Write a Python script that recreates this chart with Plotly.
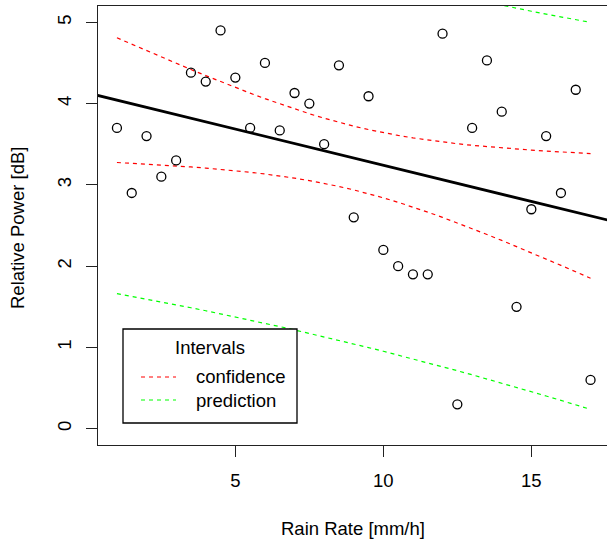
import numpy as np
import plotly.graph_objects as go

# ---- data ----
rain_rate = [1, 1.5, 2, 2.5, 3, 3.5, 4, 4.5, 5, 5.5, 6, 6.5, 7, 7.5, 8, 8.5, 9,
             9.5, 10, 10.5, 11, 11.5, 12, 12.5, 13, 13.5, 14, 14.5, 15, 15.5,
             16, 16.5, 17]
rel_power = [3.7, 2.9, 3.6, 3.1, 3.3, 4.38, 4.27, 4.9, 4.32, 3.7, 4.5, 3.67,
             4.13, 4.0, 3.5, 4.47, 2.6, 4.09, 2.2, 2.0, 1.9, 1.9, 4.86, 0.3,
             3.7, 4.53, 3.9, 1.5, 2.7, 3.6, 2.9, 4.17, 0.6]
x_ticks = [5, 10, 15]
y_ticks = [0, 1, 2, 3, 4, 5]
legend_title = "Intervals"
legend_labels = ["confidence", "prediction"]
T_975_DF31 = 2.039513  # Student t quantile, 31 df

# ---- linear model ----
x = np.array(rain_rate, dtype=float)
y = np.array(rel_power, dtype=float)
n = len(x)
b1, b0 = np.polyfit(x, y, 1)
resid = y - (b0 + b1 * x)
s = np.sqrt(np.sum(resid ** 2) / (n - 2))
xbar = x.mean()
sxx = np.sum((x - xbar) ** 2)
xs = np.sort(x)
fit = b0 + b1 * xs
se_conf = s * np.sqrt(1 / n + (xs - xbar) ** 2 / sxx)
se_pred = s * np.sqrt(1 + 1 / n + (xs - xbar) ** 2 / sxx)
conf_lo, conf_hi = fit - T_975_DF31 * se_conf, fit + T_975_DF31 * se_conf
pred_lo, pred_hi = fit - T_975_DF31 * se_pred, fit + T_975_DF31 * se_pred

# ---- layout geometry (pixels) ----
W, H = 607, 541
L, R, T, B = 98, 0, 6, 96
PW, PH = W - L - R, H - T - B
XR = [0.36, 0.36 + PW / 29.6]
YR = [-0.2, 5.2]
FONT = "Liberation Sans, Arial, sans-serif"
FS = 18.5


def px(p):
    return (p - L) / PW


def py(p):
    return (H - B - p) / PH


RED = "#FF0000"
GREEN = "#00FF00"
DASH = "4px,4px"

fig = go.Figure()
line_x = np.array([XR[0] - 1, XR[1] + 1])
fig.add_trace(go.Scatter(x=line_x, y=b0 + b1 * line_x, mode="lines",
                         line=dict(color="black", width=2.8), showlegend=False))
for lo_hi, col in ((conf_lo, RED), (conf_hi, RED), (pred_lo, GREEN), (pred_hi, GREEN)):
    fig.add_trace(go.Scatter(x=xs, y=lo_hi, mode="lines",
                             line=dict(color=col, width=1.2, dash=DASH),
                             showlegend=False))
fig.add_trace(go.Scatter(x=rain_rate, y=rel_power, mode="markers",
                         marker=dict(symbol="circle-open", size=9, color="black",
                                     line=dict(width=1.3)),
                         showlegend=False))

# legend box drawn as shapes / annotations
shapes = [
    dict(type="rect", xref="paper", yref="paper", x0=px(123), x1=px(297),
         y0=py(423), y1=py(329), fillcolor="white",
         line=dict(color="black", width=1.3), layer="above"),
]
annotations = [
    dict(text=legend_title, xref="paper", yref="paper", x=px(210), y=py(347),
         xanchor="center", yanchor="middle", showarrow=False,
         font=dict(family=FONT, size=FS, color="black")),
]
for lab, col, yy in zip(legend_labels, (RED, GREEN), (377, 400)):
    shapes.append(dict(type="line", xref="paper", yref="paper", x0=px(141), x1=px(176),
                       y0=py(yy), y1=py(yy), line=dict(color=col, width=1.2, dash=DASH),
                       layer="above"))
    annotations.append(dict(text=lab, xref="paper", yref="paper", x=px(194), y=py(yy),
                            xanchor="left", yanchor="middle", showarrow=False,
                            font=dict(family=FONT, size=FS, color="black")))

annotations.append(dict(text="Rain Rate [mm/h]", xref="paper", yref="paper",
                        x=px(353), y=py(528), xanchor="center", yanchor="middle",
                        showarrow=False, font=dict(family=FONT, size=FS, color="black")))
annotations.append(dict(text="Relative Power [dB]", xref="paper", yref="paper",
                        x=px(18), y=py(228), xanchor="center", yanchor="middle",
                        textangle=-90, showarrow=False,
                        font=dict(family=FONT, size=FS, color="black")))

fig.update_layout(
    width=W, height=H, margin=dict(l=L, r=R, t=T, b=B, pad=0),
    paper_bgcolor="white", plot_bgcolor="white",
    font=dict(family=FONT, size=FS, color="black"),
    shapes=shapes, annotations=annotations, showlegend=False,
    xaxis=dict(range=XR, tickvals=x_ticks, ticktext=[str(v) for v in x_ticks],
               showgrid=False, zeroline=False, showline=True, mirror=True,
               linecolor="#222222", linewidth=1.3, ticks="outside", ticklen=11,
               tickwidth=1.2, tickcolor="#222222", ticklabelstandoff=8),
    yaxis=dict(range=YR, tickvals=y_ticks, ticktext=[str(v) for v in y_ticks],
               showgrid=False, zeroline=False, showline=True, mirror=False,
               linecolor="#222222", linewidth=1.3, ticks="outside", ticklen=11,
               tickwidth=1.2, tickcolor="#222222", tickangle=-90,
               ticklabelstandoff=7),
)

fig.write_html("out.html")
